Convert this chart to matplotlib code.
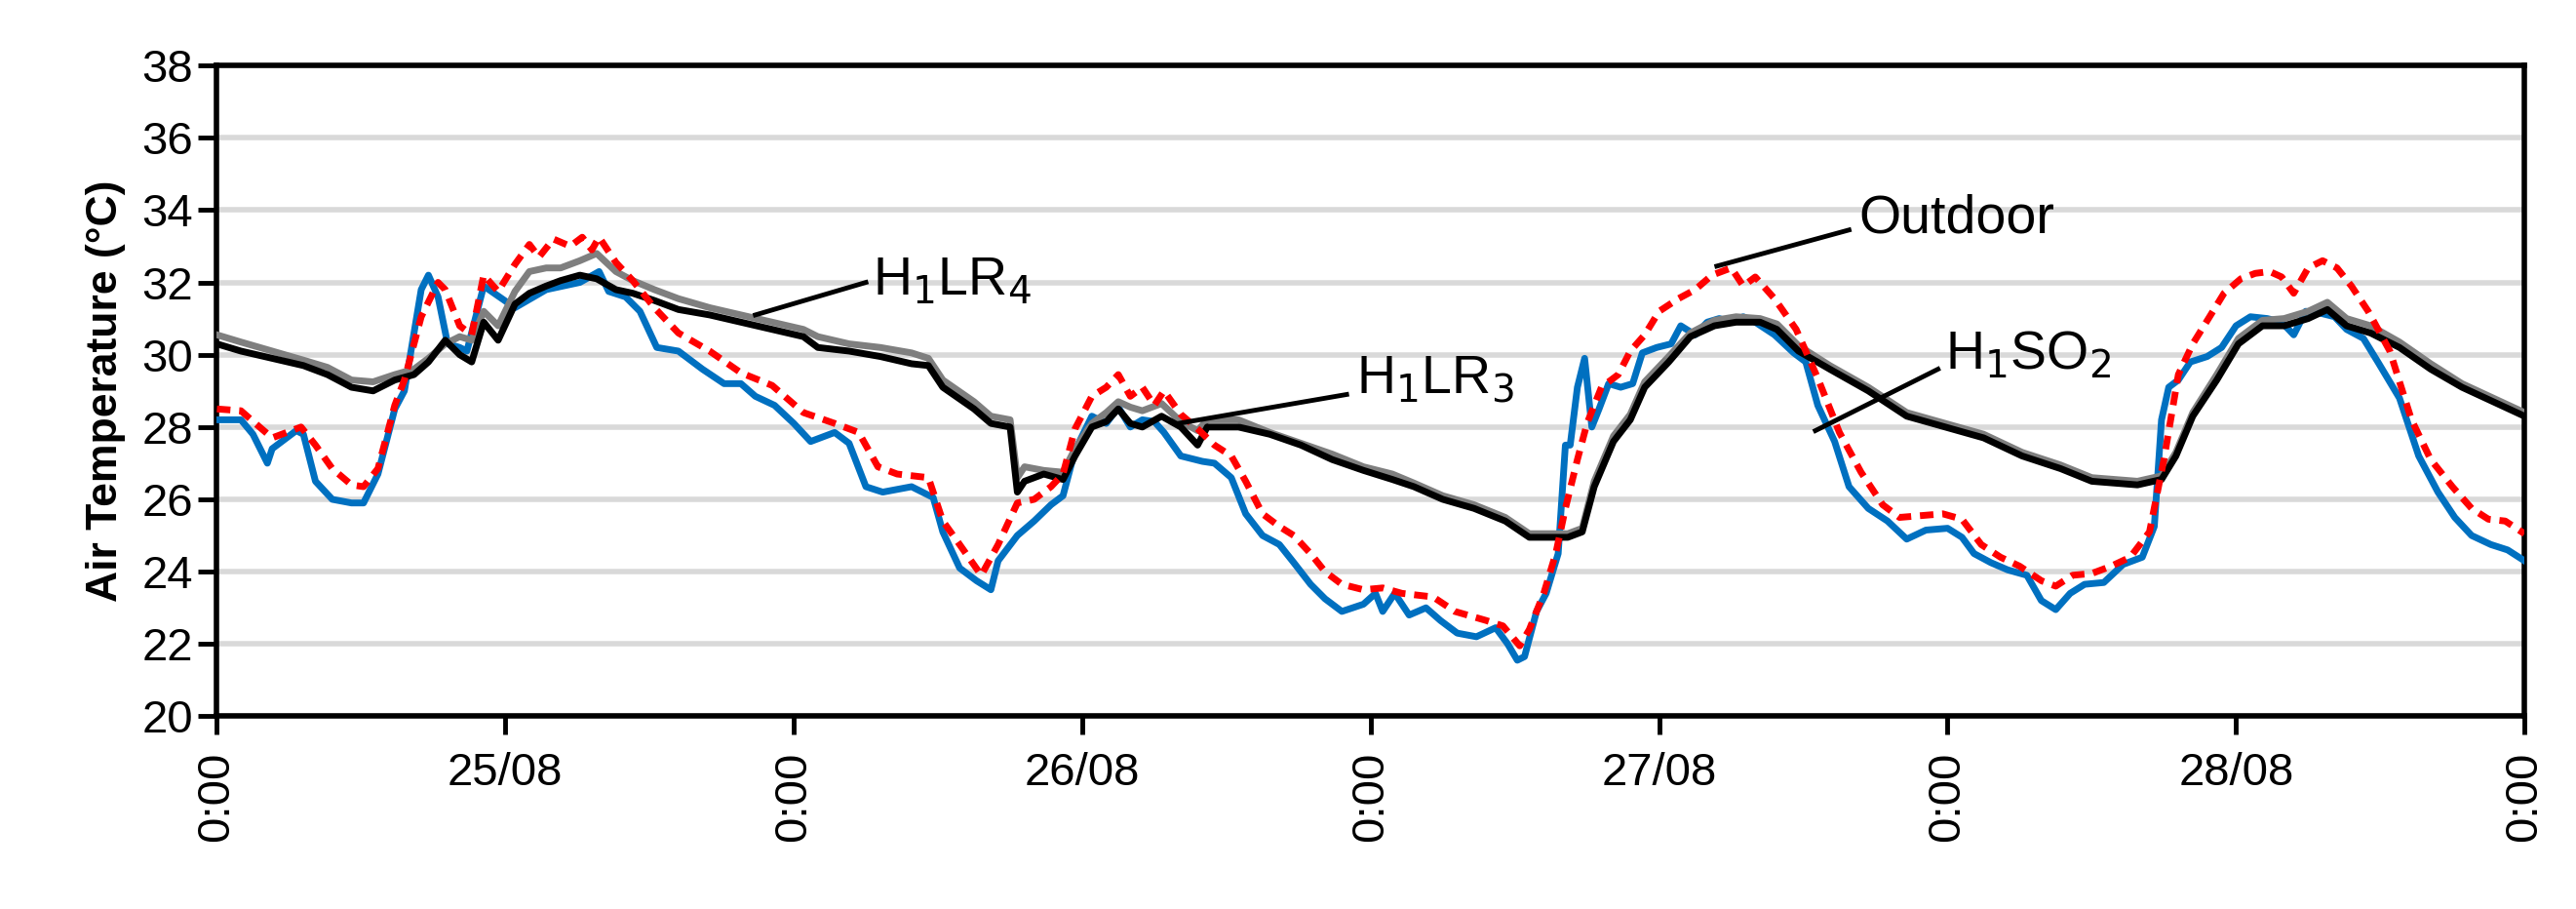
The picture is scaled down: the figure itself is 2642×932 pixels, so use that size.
import numpy as np
import matplotlib.pyplot as plt

plt.rcParams['font.family'] = ['Liberation Sans', 'DejaVu Sans']

# hours from start
t_black = [0, 1, 2.3, 3.6, 4.6, 5.6, 6.5, 7.4, 8.2, 8.8, 9.5, 10.1, 10.6, 11.1, 11.7, 12.4, 13.0, 13.7,
           14.3, 15.1, 15.8, 16.6, 17.3, 18.2, 19.2, 20.5, 21.8, 23.1, 24.4, 25.0, 26.3, 27.6, 28.9, 29.6,
           30.2, 31.5, 32.2, 33.0, 33.3, 33.6, 34.4, 35.2, 35.7, 36.4, 37.0, 37.5, 38.0, 38.5, 39.3, 40.1,
           40.8, 41.2, 42.5, 43.8, 45.1, 46.4, 47.7, 48.9, 49.8, 51.0, 52.3, 53.6, 54.6, 56.2, 56.8, 57.3,
           58.1, 58.8, 59.4, 60.4, 61.3, 62.3, 63.2, 64.2, 64.9, 65.8, 67.1, 68.7, 70.3, 71.9, 73.5, 75.1,
           76.7, 78.0, 79.9, 80.9, 81.5, 82.2, 83.2, 84.1, 85.1, 86.0, 87.0, 87.8, 88.6, 89.6, 90.8, 92.1,
           93.4, 94.7, 96]
h1lr3 = [30.3, 30.1, 29.9, 29.7, 29.45, 29.1, 29.0, 29.3, 29.45, 29.8, 30.4, 30.0, 29.8, 30.9, 30.4, 31.4,
         31.7, 31.9, 32.05, 32.2, 32.1, 31.8, 31.7, 31.5, 31.25, 31.1, 30.9, 30.7, 30.5, 30.2, 30.1, 29.95,
         29.75, 29.7, 29.1, 28.5, 28.1, 28.0, 26.2, 26.5, 26.7, 26.55, 27.2, 28.0, 28.15, 28.5, 28.1, 28.0,
         28.3, 28.0, 27.5, 28.0, 28.0, 27.8, 27.5, 27.1, 26.8, 26.55, 26.35, 26.0, 25.75, 25.4, 24.95,
         24.95, 25.1, 26.35, 27.6, 28.2, 29.1, 29.8, 30.5, 30.8, 30.9, 30.9, 30.7, 30.1, 29.6, 29.0, 28.3,
         28.0, 27.7, 27.2, 26.85, 26.5, 26.4, 26.55, 27.2, 28.3, 29.3, 30.3, 30.8, 30.8, 31.0, 31.25, 30.8,
         30.6, 30.2, 29.6, 29.1, 28.7, 28.3]
h1lr4 = [30.55, 30.35, 30.1, 29.85, 29.65, 29.3, 29.25, 29.45, 29.6, 29.9, 30.3, 30.5, 30.4, 31.2, 30.8,
         31.75, 32.3, 32.4, 32.4, 32.6, 32.8, 32.3, 32.05, 31.8, 31.55, 31.3, 31.1, 30.9, 30.7, 30.5, 30.3,
         30.2, 30.05, 29.9, 29.3, 28.7, 28.3, 28.2, 26.6, 26.9, 26.8, 26.75, 27.4, 28.1, 28.4, 28.7, 28.55,
         28.45, 28.65, 28.15, 27.9, 28.2, 28.2, 27.85, 27.55, 27.25, 26.9, 26.7, 26.45, 26.1, 25.85, 25.5,
         25.05, 25.05, 25.2, 26.5, 27.75, 28.35, 29.25, 29.95, 30.6, 30.95, 31.05, 31.0, 30.85, 30.25, 29.7,
         29.1, 28.4, 28.1, 27.8, 27.3, 26.95, 26.6, 26.5, 26.65, 27.3, 28.4, 29.45, 30.45, 30.95, 31.0,
         31.2, 31.45, 31.0, 30.8, 30.35, 29.75, 29.2, 28.8, 28.4]

t_out = [0, 1.0, 1.6, 2.3, 3.5, 4.1, 4.8, 5.6, 6.1, 6.7, 7.4, 7.8, 8.5, 9.2, 9.5, 10.1, 10.6, 11.1, 11.7,
         12.4, 13.0, 13.4, 14.0, 14.7, 15.2, 15.6, 15.9, 16.6, 17.3, 18.2, 19.2, 20.5, 21.8, 23.1, 24.4,
         25.7, 26.7, 27.5, 28.3, 29.6, 30.2, 30.9, 31.8, 32.5, 33.3, 34.0, 34.7, 35.2, 35.7, 36.4, 37.0,
         37.5, 38.0, 38.5, 39.0, 39.4, 40.1, 40.8, 41.5, 42.2, 42.8, 43.5, 44.2, 44.8, 45.5, 46.1, 46.8,
         47.7, 48.5, 49.3, 50.6, 51.5, 52.8, 53.5, 54.2, 54.6, 55.2, 55.7, 56.1, 56.6, 57.0, 57.6, 58.3,
         58.8, 59.4, 60.0, 60.8, 61.5, 62.2, 63.0, 63.5, 64.0, 64.8, 65.7, 66.6, 67.5, 68.4, 69.3, 70.0,
         70.9, 71.8, 72.6, 73.4, 74.2, 75.0, 75.9, 76.5, 77.2, 78.0, 78.8, 79.6, 80.4, 81.0, 81.6, 82.2,
         82.9, 83.5, 84.2, 84.8, 85.4, 85.9, 86.4, 87.0, 87.6, 88.2, 88.8, 89.5, 90.4, 91.3, 92.1, 93.0,
         93.8, 94.5, 95.2, 96]
outdoor = [28.5, 28.45, 28.1, 27.7, 28.0, 27.5, 26.85, 26.4, 26.35, 26.85, 28.6, 29.3, 31.05, 32.0, 31.8,
           30.8, 30.55, 32.2, 31.75, 32.5, 33.05, 32.7, 33.2, 33.0, 33.25, 32.9, 33.25, 32.55, 32.05, 31.3,
           30.6, 30.1, 29.5, 29.15, 28.4, 28.1, 27.85, 26.9, 26.7, 26.6, 25.4, 24.75, 23.9, 24.75, 25.9,
           26.0, 26.35, 26.7, 27.95, 28.85, 29.1, 29.45, 28.85, 29.1, 28.6, 29.0, 28.35, 27.95, 27.5, 27.2,
           26.5, 25.6, 25.25, 25.0, 24.5, 24.0, 23.65, 23.5, 23.55, 23.4, 23.3, 22.9, 22.65, 22.5, 21.95,
           22.4, 23.4, 24.5, 25.75, 27.1, 28.1, 29.1, 29.45, 30.1, 30.55, 31.2, 31.55, 31.8, 32.2, 32.4,
           31.9, 32.15, 31.55, 30.7, 29.35, 27.85, 26.75, 25.85, 25.5, 25.55, 25.6, 25.45, 24.75, 24.4,
           24.15, 23.75, 23.6, 23.9, 23.95, 24.15, 24.4, 25.1, 27.1, 29.45, 30.3, 31.05, 31.7, 32.1, 32.25,
           32.3, 32.15, 31.7, 32.4, 32.6, 32.4, 31.9, 31.2, 30.1, 28.2, 27.1, 26.35, 25.75, 25.45, 25.4,
           25.05]

t_so2 = [0, 1.0, 1.5, 2.1, 2.3, 3.3, 3.6, 4.1, 4.8, 5.6, 6.1, 6.7, 7.4, 7.8, 8.1, 8.5, 8.8, 9.2, 9.6, 10.1,
         10.4, 11.1, 12.4, 13.7, 15.1, 15.9, 16.3, 17.0, 17.6, 18.3, 19.2, 20.2, 21.1, 21.8, 22.4, 23.2,
         24.0, 24.7, 25.7, 26.3, 27.0, 27.7, 28.9, 29.8, 30.2, 30.9, 31.6, 32.2, 32.5, 33.3, 34.0, 34.7,
         35.2, 35.7, 36.4, 37.0, 37.5, 38.0, 38.5, 39.0, 39.4, 40.1, 41.0, 41.5, 42.2, 42.8, 43.5, 44.2,
         44.8, 45.5, 46.1, 46.8, 47.7, 48.2, 48.5, 49.0, 49.6, 50.3, 50.9, 51.6, 52.4, 53.2, 53.7, 54.1,
         54.4, 54.9, 55.3, 55.8, 56.1, 56.3, 56.6, 56.9, 57.2, 57.5, 57.9, 58.4, 58.9, 59.3, 59.9, 60.5,
         60.9, 61.5, 62.0, 62.5, 63.0, 63.5, 64.0, 64.8, 65.6, 66.1, 66.6, 67.3, 67.9, 68.7, 69.5, 70.3,
         71.1, 72.0, 72.6, 73.1, 73.8, 74.5, 75.3, 75.9, 76.5, 77.1, 77.7, 78.5, 79.3, 80.1, 80.6, 80.9,
         81.2, 81.6, 82.1, 82.8, 83.4, 84.0, 84.6, 85.3, 85.9, 86.4, 86.9, 87.5, 88.1, 88.6, 89.3, 89.9,
         90.8, 91.6, 92.4, 93.1, 93.8, 94.6, 95.3, 96]
h1so2 = [28.2, 28.2, 27.8, 27.0, 27.4, 27.9, 27.8, 26.5, 26.0, 25.9, 25.9, 26.7, 28.5, 29.0, 30.2, 31.8,
         32.2, 31.6, 30.3, 30.2, 30.1, 31.9, 31.3, 31.8, 32.0, 32.3, 31.75, 31.6, 31.2, 30.2, 30.1, 29.6,
         29.2, 29.2, 28.85, 28.6, 28.1, 27.6, 27.85, 27.55, 26.35, 26.2, 26.35, 26.05, 25.1, 24.1, 23.75,
         23.5, 24.3, 25.0, 25.4, 25.85, 26.1, 27.35, 28.3, 28.1, 28.55, 28.0, 28.2, 28.15, 27.85, 27.2,
         27.05, 27.0, 26.6, 25.6, 25.0, 24.75, 24.25, 23.65, 23.25, 22.9, 23.1, 23.4, 22.9, 23.4, 22.8,
         23.0, 22.65, 22.3, 22.2, 22.45, 22.0, 21.55, 21.65, 22.9, 23.4, 24.5, 27.5, 27.5, 29.1, 29.9,
         28.0, 28.5, 29.2, 29.1, 29.2, 30.05, 30.2, 30.3, 30.8, 30.55, 30.9, 31.0, 30.9, 31.05, 30.9,
         30.55, 30.05, 29.8, 28.6, 27.6, 26.35, 25.75, 25.4, 24.9, 25.15, 25.2, 24.95, 24.5, 24.25, 24.05,
         23.9, 23.2, 22.95, 23.4, 23.65, 23.7, 24.2, 24.4, 25.25, 28.2, 29.1, 29.3, 29.8, 29.95, 30.2,
         30.8, 31.05, 31.0, 30.9, 30.55, 31.2, 31.15, 31.05, 30.7, 30.45, 29.8, 28.8, 27.2, 26.2, 25.5,
         25.0, 24.75, 24.6, 24.3]

tick_hours = [0, 12, 24, 36, 48, 60, 72, 84, 96]
tick_labels = ['0:00', '25/08', '0:00', '26/08', '0:00', '27/08', '0:00', '28/08', '0:00']

fig = plt.figure(figsize=(26.42, 9.32), dpi=100)
ax = fig.add_axes([0.0842, 0.212, 0.8958, 0.716])

lw = 5
ax.plot(t_so2, h1so2, color='#0070c0', lw=lw, zorder=3)
ax.plot(t_black, h1lr4, color='#7f7f7f', lw=lw, zorder=4)
ax.plot(t_black, h1lr3, color='black', lw=lw, zorder=5)
ax.plot(t_out, outdoor, color='#ff0000', lw=lw, ls=(0, (2.0, 1.3)), zorder=6)

ax.set_xlim(0, 96)
ax.set_ylim(20, 38)
ax.set_yticks(np.arange(20, 39, 2))
ax.yaxis.grid(True, color='#d9d9d9', lw=4)
ax.set_axisbelow(True)
ax.set_xticks(tick_hours)
ax.set_xticklabels(tick_labels)
for lab in ax.get_xticklabels():
    if lab.get_text() == '0:00':
        lab.set_rotation(90)
    lab.set_va('top')
ax.tick_params(axis='both', labelsize=34, width=3.5, length=14, direction='out')
ax.tick_params(axis='x', pad=12)
for s in ax.spines.values():
    s.set_linewidth(4)
ax.set_ylabel('Air Temperature (°C)', fontsize=32, fontweight='bold', labelpad=12)

afs = 40
alw = 3.5
ax.plot([22.4, 27.0], [31.1, 32.0], color='black', lw=alw, zorder=7)
ax.text(27.3, 32.05, r'H$_1$LR$_4$', fontsize=afs, va='center', ha='left')
ax.plot([40.0, 47.0], [28.1, 28.9], color='black', lw=alw, zorder=7)
ax.text(47.4, 29.3, r'H$_1$LR$_3$', fontsize=afs, va='center', ha='left')
ax.plot([62.4, 67.9], [32.45, 33.45], color='black', lw=alw, zorder=7)
ax.text(68.3, 33.75, 'Outdoor', fontsize=afs, va='center', ha='left')
ax.plot([66.5, 71.6], [27.9, 29.6], color='black', lw=alw, zorder=7)
ax.text(71.9, 30.0, r'H$_1$SO$_2$', fontsize=afs, va='center', ha='left')

fig.savefig('out.png', dpi=100)
